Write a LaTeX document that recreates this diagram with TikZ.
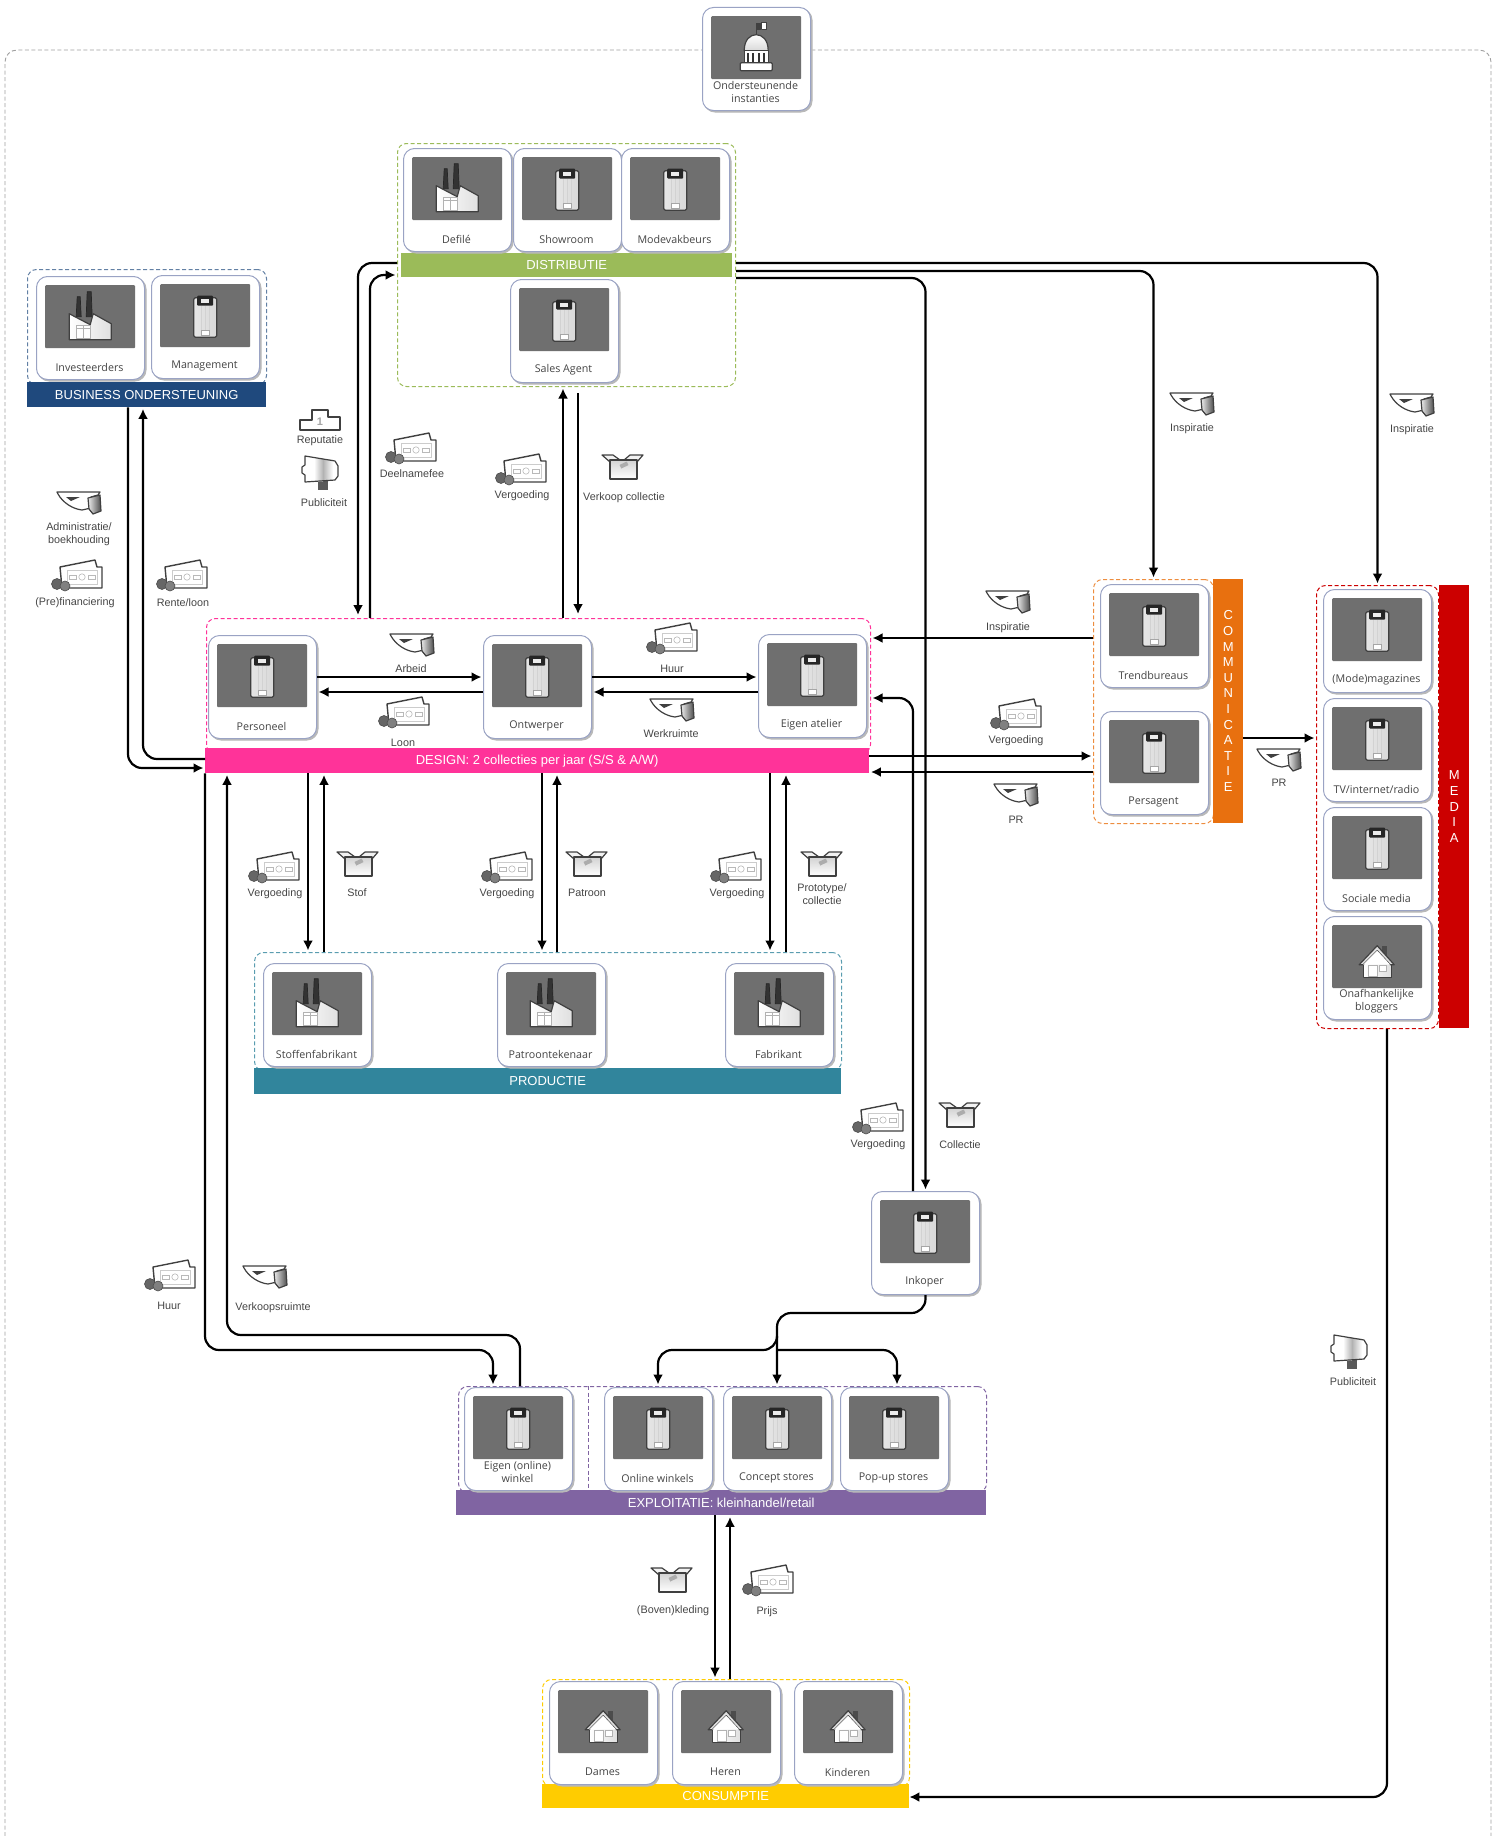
\documentclass[tikz,border=0pt]{standalone}
\usepackage{fontspec}
\usetikzlibrary{arrows.meta,shadows,calc}
\newfontfamily\labf{Liberation Sans}
\newfontfamily\cardf{Open Sans}
\definecolor{txtgray}{HTML}{454545}
\definecolor{panelgray}{HTML}{6F6F6F}
\definecolor{cardedge}{HTML}{9AA3C4}
\definecolor{cpink}{HTML}{FF3399}
\definecolor{cnavy}{HTML}{1F497D}
\definecolor{cgreen}{HTML}{9BBB59}
\definecolor{corange}{HTML}{E8700F}
\definecolor{cred}{HTML}{CC0000}
\definecolor{cteal}{HTML}{31859C}
\definecolor{cpurple}{HTML}{8064A2}
\definecolor{cyellow}{HTML}{FFCC00}
\tikzset{
  card/.style={draw=cardedge,line width=1pt,fill=white,rounded corners=11pt,minimum width=108pt,minimum height=103pt,inner sep=0pt,anchor=north west,
    copy shadow={shadow xshift=1.5pt,shadow yshift=-1.5pt,draw=gray!55,fill=gray!55}},
  panel/.style={fill=panelgray,draw=none,minimum width=90pt,minimum height=63pt,inner sep=0pt,anchor=north west,rounded corners=1pt},
  cardlabel/.style={font=\cardf\fontsize{10.7}{13}\selectfont,text=txtgray,align=center,inner sep=0pt,xshift=-1pt},
  flowlabel/.style={font=\labf\fontsize{10.8}{13}\selectfont,text=txtgray,align=center,inner sep=0pt,yshift=-1pt},
  grp/.style={draw=#1,line width=1pt,dash pattern=on 4pt off 2.5pt,rounded corners=9pt,inner sep=0pt,anchor=north west},
  barbox/.style={fill=#1,draw=none,inner sep=0pt,anchor=north west,text=white,align=center,font=\labf\fontsize{13}{15.6}\selectfont},
  flow/.style={draw=black,line width=2.2pt,rounded corners=14pt,-{Latex[length=10pt,width=10pt]},shorten >=1.5pt},
  ic/.style={draw=black!75,line width=1.2pt,line join=round},
  pics/bldg/.style={code={
    \draw[ic,rounded corners=1.5pt,left color=gray!20,middle color=white,right color=gray!30] (-11.5,-18) rectangle (11.5,21.5);
    \foreach \u in {-4,0,4}{\draw[gray!35,line width=.5pt] (\u,-10) -- (\u,15);}
    \fill[black!85,rounded corners=1pt] (-8,-20) rectangle (8,-10);
    \fill[white!85!gray] (-4,-17) rectangle (4,-13);
    \draw[gray!70,line width=.6pt,fill=white] (-4,15) rectangle (4,20);
  }},
  pics/factory/.style={code={
    \draw[black!85,fill=black!80,line width=.7pt] (-14,0) -- (-13,-20) -- (-10,-20) -- (-9,0) -- cycle;
    \draw[black!85,fill=black!80,line width=.7pt] (-4,0) -- (-3,-25) -- (1,-25) -- (2,0) -- cycle;
    \draw[ic,left color=white,right color=gray!25] (-21,23) -- (-21,-3) -- (0,8) -- (3,-3) -- (21,7) -- (21,23) -- cycle;
    \draw[gray!60,fill=white,line width=.6pt] (-14,9) rectangle (0,22);
    \draw[gray!60,line width=.6pt] (-7,9) -- (-7,22) (-14,12) -- (0,12);
  }},
  pics/house/.style={code={
    \fill[black!70] (5,-11) rectangle (10,-2);
    \draw[ic,left color=white,right color=gray!25] (-14,7) rectangle (14,21);
    \draw[ic,fill=gray!25,line join=round] (-18,8) -- (0,-11) -- (17,8) -- (13,8) -- (0,-6) -- (-14,8) -- cycle;
    \fill[white] (0,-6) -- (-14,8) -- (13,8) -- cycle;
    \draw[gray!60,line width=.6pt,fill=white] (-9,9) rectangle (0,20) (2,9) rectangle (9,15);
  }},
  pics/capitol/.style={code={
    \draw[black!75,line width=1pt] (0,-13) -- (0,-25);
    \fill[black!75] (0,-25) rectangle (5,-18);
    \draw[ic,fill=white] (5,-25) rectangle (10,-18);
    \draw[ic,top color=white,bottom color=gray!30] (-12,3) .. controls (-12,-8) and (-6,-13) .. (0,-13) .. controls (6,-13) and (12,-8) .. (12,3) -- cycle;
    \draw[ic,fill=white] (-12,3) rectangle (12,15);
    \foreach \u in {-8,-3,3,8}{\fill[black!80] (\u-1.2,5) rectangle (\u+1.2,14);}
    \draw[ic,fill=white,rounded corners=1pt] (-16,15) rectangle (16,23);
  }},
  pics/money/.style={code={
    \draw[ic,fill=white,line width=1.4pt] (-17,-8) -- (18,-15) -- (20,-8) -- (25,-8) -- (25,13) -- (-15,13) -- cycle;
    \draw[gray!40,fill=white,line width=.5pt] (-10,-5) rectangle (20,9);
    \draw[gray!55,line width=.6pt] (5,2) circle (3.2);
    \draw[gray!55,line width=.6pt] (-8,0) rectangle (-1,4) (11,0) rectangle (18,4);
    \draw[black!70,fill=black!60,line width=.6pt] (-20,9) circle (5.5);
    \draw[black!70,fill=black!50,line width=.6pt] (-12,11) circle (5);
  }},
  pics/boxicon/.style={code={
    \draw[ic,fill=gray!10] (-21,-12) -- (-10,-12) -- (-3,-7) -- (-13,-5) -- cycle;
    \draw[ic,fill=gray!10] (20,-12) -- (7,-12) -- (1,-7) -- (14,-5) -- cycle;
    \draw[ic,top color=gray!35,bottom color=white,line width=1.3pt] (-13,-7) -- (14,-7) -- (14,12) -- (-13,12) -- cycle;
    \fill[gray!65,rotate around={25:(1,-2)}] (-3,-4) rectangle (5,0);
  }},
  pics/hand/.style={code={
    \draw[ic,fill=white] (-22,-11) -- (21,-11) -- (19,-8) -- (12,-6) -- (12,5) -- (3,7) .. controls (-6,6) and (-16,0) .. (-21,-9) -- cycle;
    \fill[black!75] (-13,-6) -- (1,-6) -- (-8,-2) -- cycle;
    \draw[ic,left color=gray!15,right color=black!70] (9,-5) -- (21,-8) -- (22,8) -- (14,11) -- (10,6) -- cycle;
  }},
  pics/megaphone/.style={code={
    \fill[black!65] (-2,6) rectangle (8,17);
    \fill[white] (-15,-17) -- (15,-12) -- (18,-7) -- (18,3) -- (15,7) -- (-15,9) -- (-15,2) -- (-18,0) -- (-18,-6) -- (-15,-8) -- cycle;
    \fill[left color=white,right color=gray!60] (-6,-15) rectangle (3,8);
    \fill[left color=gray!60,right color=white] (3,-13.5) rectangle (13,7.5);
    \draw[ic] (-15,-17) -- (15,-12) -- (18,-7) -- (18,3) -- (15,7) -- (-15,9) -- (-15,2) -- (-18,0) -- (-18,-6) -- (-15,-8) -- cycle;
  }},
  pics/podium/.style={code={
    \draw[ic,fill=white] (-20,10) -- (-20,0) -- (-8,0) -- (-8,-10) -- (8,-10) -- (8,-3) -- (20,-3) -- (20,10) -- cycle;
    \node[font=\labf\bfseries\fontsize{11}{11}\selectfont,text=gray!70,inner sep=0pt] (podiumone) at (0,2) {1};
  }},
}
% #1 label raise, #2 name, #3 x, #4 y, #5 icon, #6 label
\newcommand\cardbox[6][13pt]{%
  \node[card] (#2) at (#3,#4) {};
  \node[panel] (#2-p) at ([shift={(9pt,-9pt)}]#2.north west) {};
  \pic at (#2-p.center) {#5};
  \node[cardlabel] (#2-t) at ([yshift=#1]#2.south) {#6};
}
% #1 name, #2 icon, #3,#4 icon centre, #5,#6 label centre, #7 label
\newcommand\flowitem[7]{%
  \pic at (#3,#4) {#2};
  \node[flowlabel] (#1) at (#5,#6) {#7};
}
\begin{document}
\begin{tikzpicture}[x=1pt,y=-1pt]
\useasboundingbox (0,0) rectangle (1494,1836);
\foreach \v in {128,143,205,227,308,324,358,370,493,520,542,557,563,578,588,658,715,730,770,777,786,897,913,1387}{\coordinate (r\v) at (\v,0);}
\foreach \v in {263,271,275,278,638,677,692,698,738,756,759,768,772,1313,1335,1338,1350,1797}{\coordinate (q\v) at (0,\v);}
% outer frame
\draw[gray!75,line width=.9pt,dash pattern=on 4pt off 2.5pt,rounded corners=12pt] (5,1836) -- (5,50) -- (1491,50) -- (1491,1836);
% groups
\node[grp=cnavy!70,minimum width=239pt,minimum height=115pt] (bgroup) at (27,269) {};
\node[grp=cgreen,minimum width=338pt,minimum height=243pt] (dgroup) at (397,143) {};
\node[grp=cpink,minimum width=664pt,minimum height=135pt] (sgroup) at (206,618) {};
\node[grp=cteal!80,minimum width=587pt,minimum height=118pt] (pgroup) at (254,952) {};
\node[grp=corange!80,minimum width=120pt,minimum height=244pt] (cgroup) at (1093,579) {};
\node[grp=cred,minimum width=122pt,minimum height=443pt] (mgroup) at (1316,585) {};
\node[grp=cpurple,minimum width=528pt,minimum height=106pt] (egroup) at (458,1386) {};
\node[grp=cyellow,minimum width=367pt,minimum height=107pt] (kgroup) at (542,1679) {};
\draw[cpurple,line width=1pt,dash pattern=on 4pt off 2.5pt] (egroup.north -| r588) -- (egroup.south -| r588);
% bars
\node[barbox=cnavy,minimum width=239pt,minimum height=25pt] (bbar) at (27,382) {BUSINESS ONDERSTEUNING};
\node[barbox=cgreen,minimum width=331pt,minimum height=24pt] (dbar) at (401,253) {DISTRIBUTIE};
\node[barbox=cpink,minimum width=664pt,minimum height=25pt] (sbar) at (205,748) {DESIGN: 2 collecties per jaar (S/S \& A/W)};
\node[barbox=cteal,minimum width=587pt,minimum height=26pt] (pbar) at (254,1068) {PRODUCTIE};
\node[barbox=corange,minimum width=30pt,minimum height=244pt] (cbar) at (1213,579) {C\\O\\M\\M\\U\\N\\I\\C\\A\\T\\I\\E};
\node[barbox=cred,minimum width=30pt,minimum height=443pt] (mbar) at (1439,585) {M\\E\\D\\I\\A};
\node[barbox=cpurple,minimum width=530pt,minimum height=25pt] (ebar) at (456,1490) {EXPLOITATIE: kleinhandel/retail};
\node[barbox=cyellow,minimum width=367pt,minimum height=24pt] (kbar) at (542,1784) {CONSUMPTIE};
% cards
\cardbox[19pt]{ondersteun}{702}{7}{capitol}{Ondersteunende\\instanties}
\cardbox{defile}{403}{148}{factory}{Defilé}
\cardbox{showroom}{513}{148}{bldg}{Showroom}
\cardbox{modevak}{621}{148}{bldg}{Modevakbeurs}
\cardbox{sales}{510}{279}{bldg}{Sales Agent}
\cardbox{invest}{36}{276}{factory}{Investeerders}
\cardbox{manage}{151}{275}{bldg}{Management}
\cardbox{personeel}{208}{635}{bldg}{Personeel}
\cardbox{ontwerper}{483}{635}{bldg}{Ontwerper}
\cardbox{atelier}{758}{634}{bldg}{Eigen atelier}
\cardbox{stoffen}{263}{963}{factory}{Stoffenfabrikant}
\cardbox{patroon}{497}{963}{factory}{Patroontekenaar}
\cardbox{fabrikant}{725}{963}{factory}{Fabrikant}
\cardbox{trend}{1100}{584}{bldg}{Trendbureaus}
\cardbox{persagent}{1100}{711}{bldg}{Persagent}
\cardbox{magazines}{1323}{589}{bldg}{(Mode)magazines}
\cardbox{tvradio}{1323}{698}{bldg}{TV/internet/radio}
\cardbox{sociale}{1323}{807}{bldg}{Sociale media}
\cardbox[19pt]{bloggers}{1323}{916}{house}{Onafhankelijke\\bloggers}
\cardbox{inkoper}{871}{1191}{bldg}{Inkoper}
\cardbox[19pt]{eigen}{464}{1387}{bldg}{Eigen (online)\\winkel}
\cardbox{online}{604}{1387}{bldg}{Online winkels}
\cardbox{concept}{723}{1387}{bldg}{Concept stores}
\cardbox{popup}{840}{1387}{bldg}{Pop-up stores}
\cardbox{dames}{549}{1681}{house}{Dames}
\cardbox{heren}{672}{1681}{house}{Heren}
\cardbox{kinderen}{794}{1681}{house}{Kinderen}
% connectors
\draw[flow] (dgroup.east |- q263) -| (mgroup.north);
\draw[flow] (dgroup.east |- q271) -| (cgroup.north);
\draw[flow] (dgroup.east |- q278) -| (inkoper.north);
\draw[flow] (inkoper.north -| r913) |- (sgroup.east |- q698);
\draw[flow,shorten >=3pt] (dgroup.west |- q263) -| (sgroup.north -| r358);
\draw[flow] (sgroup.north -| r370) |- (dgroup.west |- q275);
\draw[flow] (sgroup.north -| r563) -- (dgroup.south -| r563);
\draw[flow,shorten <=6pt,shorten >=4pt] (dgroup.south -| r578) -- (sgroup.north -| r578);
\draw[flow] (personeel.east |- q677) -- (ontwerper.west |- q677);
\draw[flow] (ontwerper.west |- q692) -- (personeel.east |- q692);
\draw[flow] (ontwerper.east |- q677) -- (atelier.west |- q677);
\draw[flow] (atelier.west |- q692) -- (ontwerper.east |- q692);
\draw[flow] (bbar.south -| r128) |- (sbar.west |- q768);
\draw[flow] (sbar.west |- q759) -| (bbar.south -| r143);
\draw[flow] (sbar.south -| r205) |- (q1350 -| r493) -- (egroup.north -| r493);
\draw[flow] (egroup.north -| r520) |- (q1335 -| r227) -- (sbar.south -| r227);
\draw[flow] (sbar.south -| r308) -- (pgroup.north -| r308);
\draw[flow] (pgroup.north -| r324) -- (sbar.south -| r324);
\draw[flow] (sbar.south -| r542) -- (pgroup.north -| r542);
\draw[flow] (pgroup.north -| r557) -- (sbar.south -| r557);
\draw[flow] (sbar.south -| r770) -- (pgroup.north -| r770);
\draw[flow] (pgroup.north -| r786) -- (sbar.south -| r786);
\draw[flow] (inkoper.south) |- (q1313 -| r777) -- (egroup.north -| r777);
\draw[flow] (q1338 -| r777) |- (q1350 -| r658) -- (egroup.north -| r658);
\draw[flow] (q1350 -| r777) -| (egroup.north -| r897);
\draw[flow] (ebar.south -| r715) -- (kgroup.north -| r715);
\draw[flow] (kgroup.north -| r730) -- (ebar.south -| r730);
\draw[flow,shorten >=0pt] (mgroup.south -| r1387) |- (kbar.east |- q1797);
\draw[flow] (cbar.east |- q738) -- (mgroup.west |- q738);
\draw[flow] (cgroup.west |- q638) -- (sgroup.east |- q638);
\draw[flow] (sbar.east |- q756) -- (cgroup.west |- q756);
\draw[flow] (cgroup.west |- q772) -- (sbar.east |- q772);
% flow items
\flowitem{admin}{hand}{79}{503}{79}{533}{Administratie/\\boekhouding}
\flowitem{prefin}{money}{77}{575}{75}{602}{(Pre)financiering}
\flowitem{rente}{money}{182}{575}{183}{602}{Rente/loon}
\flowitem{reputatie}{podium}{320}{420}{320}{440}{Reputatie}
\flowitem{pub1}{megaphone}{320}{473}{324}{502}{Publiciteit}
\flowitem{deelname}{money}{411}{448}{412}{473}{Deelnamefee}
\flowitem{verg1}{money}{521}{469}{522}{495}{Vergoeding}
\flowitem{verkoop}{boxicon}{623}{467}{624}{497}{Verkoop collectie}
\flowitem{insp1}{hand}{1192}{404}{1192}{428}{Inspiratie}
\flowitem{insp2}{hand}{1412}{405}{1412}{429}{Inspiratie}
\flowitem{insp3}{hand}{1008}{602}{1008}{627}{Inspiratie}
\flowitem{arbeid}{hand}{412}{645}{411}{668}{Arbeid}
\flowitem{loon}{money}{404}{712}{403}{742}{Loon}
\flowitem{huur1}{money}{672}{638}{672}{668}{Huur}
\flowitem{werk}{hand}{672}{710}{671}{733}{Werkruimte}
\flowitem{verg2}{money}{1016}{714}{1016}{740}{Vergoeding}
\flowitem{pr1}{hand}{1016}{795}{1016}{819}{PR}
\flowitem{pr2}{hand}{1279}{760}{1279}{782}{PR}
\flowitem{verg3}{money}{274}{867}{275}{893}{Vergoeding}
\flowitem{stof}{boxicon}{358}{864}{357}{892}{Stof}
\flowitem{verg4}{money}{507}{867}{507}{893}{Vergoeding}
\flowitem{patr}{boxicon}{587}{864}{587}{892}{Patroon}
\flowitem{verg5}{money}{736}{867}{737}{893}{Vergoeding}
\flowitem{proto}{boxicon}{822}{864}{822}{893}{Prototype/\\collectie}
\flowitem{verg6}{money}{878}{1118}{878}{1144}{Vergoeding}
\flowitem{collectie}{boxicon}{960}{1115}{960}{1144}{Collectie}
\flowitem{huur2}{money}{170}{1275}{169}{1305}{Huur}
\flowitem{verkruimte}{hand}{265}{1277}{273}{1307}{Verkoopsruimte}
\flowitem{pub2}{megaphone}{1349}{1352}{1353}{1381}{Publiciteit}
\flowitem{boven}{boxicon}{672}{1580}{673}{1610}{(Boven)kleding}
\flowitem{prijs}{money}{768}{1580}{767}{1611}{Prijs}
\end{tikzpicture}
\end{document}
